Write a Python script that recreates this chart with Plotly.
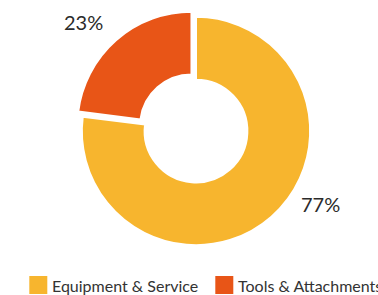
import plotly.graph_objects as go

categories = ["Equipment & Service", "Tools & Attachments"]
values = [77, 23]
colors = ["#F7B52E", "#E85517"]
pulls = [0, 0.06]

W, H = 378, 295

def px(x):
    return x / W

def py(y):
    return (H - y) / H

fig = go.Figure()
fig.add_trace(go.Pie(
    labels=categories,
    values=values,
    hole=0.45,
    sort=False,
    direction="clockwise",
    rotation=0,
    pull=pulls,
    marker=dict(colors=colors, line=dict(color="white", width=2)),
    textinfo="none",
    showlegend=False,
    hoverinfo="label+percent",
    domain=dict(x=[px(14), 1], y=[py(252), py(10)]),
))

# percentage labels placed outside the ring
label_pos = [(320, 204), (83.5, 22)]
for v, (lx, ly) in zip(values, label_pos):
    fig.add_annotation(text=f"{v}%", xref="paper", yref="paper",
                       x=px(lx), y=py(ly), xanchor="center", yanchor="middle",
                       showarrow=False,
                       font=dict(family="Lato", size=20, color="#2b2b2b"))

# custom legend (squares + labels)
leg_x = [29.3, 215.3]
for i, (cat, col) in enumerate(zip(categories, colors)):
    x0 = leg_x[i]
    fig.add_shape(type="rect", xref="paper", yref="paper",
                  x0=px(x0), x1=px(x0 + 18), y0=py(294), y1=py(276),
                  fillcolor=col, line=dict(width=0), layer="above")
    fig.add_annotation(text=cat, xref="paper", yref="paper",
                       x=px(x0 + 21), y=py(285.5),
                       xanchor="left", yanchor="middle", showarrow=False,
                       font=dict(family="Lato", size=16, color="#333333"))

fig.update_layout(
    width=W, height=H,
    margin=dict(l=0, r=0, t=0, b=0),
    paper_bgcolor="white", plot_bgcolor="white",
)
fig.write_html("out.html",
               config={"displayModeBar": False},
               post_script="document.body.style.margin='0';document.body.style.overflow='hidden';")
